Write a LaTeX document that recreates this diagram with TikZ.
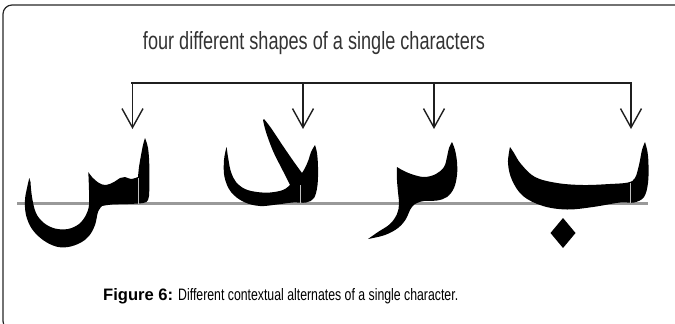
\documentclass[tikz,border=0pt]{standalone}
\usepackage{fontspec}
\usepackage{graphicx}
\setmainfont{Liberation Sans}
\usetikzlibrary{arrows.meta}
\definecolor{titlegray}{HTML}{333333}
\definecolor{basegray}{HTML}{999999}
\tikzset{
  framebox/.style={draw=black!85, line width=1.2pt, rounded corners=9pt},
  barline/.style={draw=black!88, line width=2.6pt},
  arrowline/.style={draw=black!88, line width=1.4pt, -{Straight Barb[length=19pt,width=21pt,line width=1.4pt]}},
  baseline/.style={draw=basegray, line width=3pt},
  glyphfill/.style={fill=black},
  seprule/.style={draw=black!25, line width=0.8pt},
}
\begin{document}
\begin{tikzpicture}[x=1pt,y=-1pt]
\useasboundingbox (0,0) rectangle (675,324);
\begin{scope}
\clip (0,0) rectangle (675,324);
\draw[framebox] (3,5) rectangle (690,330);
\end{scope}
% title
\node[anchor=base, text=titlegray, inner sep=0pt] (title) at (314,49)
  {\resizebox{342pt}{18pt}{\fontsize{23}{28}\selectfont four different shapes of a single characters}};
% bar and arrows
\coordinate (bl) at (131,83);
\coordinate (br) at (632,83);
\draw[barline] (bl) -- (br);
\foreach \i/\x in {1/132.5,2/303,3/434,4/631}{
  \coordinate (b\i) at (\x,83);
  \coordinate (t\i) at (\x,129);
  \draw[arrowline] (b\i) -- (t\i);
}
% baseline
\coordinate (gl) at (17,203);
\coordinate (gr) at (648,203);
\draw[baseline] (gl) -- (gr);
% glyph 1
\fill[glyphfill] plot[smooth,tension=0.6] coordinates {(145,138) (148,148) (149.3,165) (149.3,190) (148,200) (143,203) (128,204) (112,204.5) (102,206)}
  -- plot[smooth,tension=0.6] coordinates {(102,206) (98,212) (95,225) (89,236) (80,243) (68,247) (56,246.5) (43,240) (32,229) (26,215) (25,200) (27,188) (29.3,178)}
  -- plot[smooth,tension=0.6] coordinates {(30.5,182) (32,197) (36,213) (44,223) (55,228.5) (68,229) (79,224) (86,215) (89,205) (89,190) (88.3,172)}
  -- plot[smooth,tension=0.6] coordinates {(88.3,172) (92,177) (99,183) (106,185) (114,182) (120,178) (125,177) (131,179) (138,177)}
  -- plot[smooth,tension=0.6] coordinates {(138,177) (139,167) (140.7,157) (143,145) (145,138)} -- cycle;
\coordinate (s1a) at (138.3,178);
\coordinate (s1b) at (138.3,204);
\draw[seprule] (s1a) -- (s1b);
% glyph 2
\fill[glyphfill] plot[smooth,tension=0.6] coordinates {(226.5,147) (224,160) (224.5,177) (231,192) (244,202) (260,206) (277,204.5) (293,202.5) (306,202.5) (314,198) (317.5,185) (318,167) (317,153) (315,145)}
  -- plot[smooth,tension=0.6] coordinates {(315,145) (311,152) (308.5,160) (305,168) (302,173)}
  -- plot[smooth,tension=0.6] coordinates {(302,173) (294,162) (283,146) (271,128) (264,119)}
  -- plot[smooth,tension=0.6] coordinates {(263,120) (266,132) (273,151) (283,171) (290,185)}
  -- plot[smooth,tension=0.6] coordinates {(290,185) (283,190) (270,192.5) (257,192) (245,189) (236,182) (231,172) (228.5,160) (227,150) (226.5,147)} -- cycle;
\coordinate (s2a) at (300,185);
\coordinate (s2b) at (300,203);
\draw[seprule] (s2a) -- (s2b);
% glyph 3
\fill[glyphfill] plot[smooth,tension=0.6] coordinates {(452,142) (455,150) (457,162) (457,175) (454,188) (447,197) (437,200.5) (424,201) (415,204) (410,210) (406,219) (398,228) (385,235) (368,239)}
  -- plot[smooth,tension=0.6] coordinates {(368,239) (378,232) (390,224) (397,214) (399,204) (398,192) (397,180) (397,167)}
  -- plot[smooth,tension=0.6] coordinates {(397,167) (404,171) (414,175) (425,177) (436,174) (444,167) (447,157) (449,148) (452,142)} -- cycle;
% glyph 4
\fill[glyphfill] plot[smooth,tension=0.6] coordinates {(510,147) (508,163) (512,180) (523,196) (543,206) (567,209.5) (593,207) (620,202.5) (634,202.5) (644,197) (648,183) (648.5,165) (647.5,152) (645,142)}
  -- plot[smooth,tension=0.6] coordinates {(645,142) (642,150) (639,165) (635,178) (628,182.5) (610,184) (583,185) (557,183) (535,177) (521,164) (514,153) (510,147)} -- cycle;
\coordinate (s4a) at (630,183);
\coordinate (s4b) at (630,203);
\draw[seprule] (s4a) -- (s4b);
\fill[glyphfill] (563,218) -- (575.5,233) -- (563,248) -- (550.5,233) -- cycle;
% caption
\node[anchor=base west, inner sep=0pt] (capa) at (103,300)
  {\resizebox{70pt}{12pt}{\fontsize{16}{19}\selectfont\textbf{Figure 6:}}};
\node[anchor=base west, inner sep=0pt] (capb) at (178,300)
  {\resizebox{280pt}{12pt}{\fontsize{16}{19}\selectfont Different contextual alternates of a single character.}};
\end{tikzpicture}
\end{document}
